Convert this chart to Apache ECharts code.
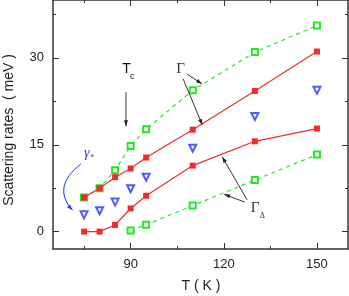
<!DOCTYPE html>
<html><head><meta charset="utf-8">
<script src="https://cdn.jsdelivr.net/npm/echarts@6/dist/echarts.min.js"></script>
<style>html,body{margin:0;padding:0;background:#fff}#c{width:349px;height:296px}</style>
</head><body><div id="c"></div>
<script>
// ---- data ----
var temps = [75, 80, 85, 90, 95, 110, 130, 150];
var gammaUpperRed = [5.9, 7.5, 9.4, 10.9, 12.8, 17.6, 24.3, 31.1];
var gammaDeltaRed = [0, 0, 1.15, 4.0, 6.2, 11.4, 15.6, 17.8];
var gammaUpperGreen = [5.9, 7.5, 10.6, 14.8, 17.7, 24.4, 31.0, 35.6];
var tempsLowerGreen = [90, 95, 110, 130, 150];
var gammaDeltaGreen = [0.2, 1.2, 4.5, 8.9, 13.3];
var gammaStar = [2.9, 3.6, 5.1, 7.4, 9.4, 14.4, 19.9, 24.4];
var xMajor = [90, 120, 150];
var xMinor = [75, 105, 135];
var yMajor = [0, 15, 30];
var yMinor = [7.5, 22.5, 37.5];

function pairs(xs, ys) { return xs.map(function (x, i) { return [x, ys[i]]; }); }

var FONT = 'Liberation Sans, Arial, sans-serif';
var AX = '#333';
function xa(pos, ticks, len, line, labels) {
  return {
    type: 'value', min: 65, max: 160, position: pos, gridIndex: 0,
    axisLine: { show: line, onZero: false, lineStyle: { color: AX, width: 1.5 } },
    axisTick: { show: true, inside: true, length: len, customValues: ticks, lineStyle: { color: AX, width: 1 } },
    axisLabel: labels ? { show: true, customValues: ticks, margin: 9, color: '#222', fontSize: 13, fontFamily: FONT } : { show: false },
    splitLine: { show: false }
  };
}
function ya(pos, ticks, len, line, labels) {
  return {
    type: 'value', min: -3, max: 40, position: pos, gridIndex: 0,
    axisLine: { show: line, onZero: false, lineStyle: { color: AX, width: 1.5 } },
    axisTick: { show: true, inside: true, length: len, customValues: ticks, lineStyle: { color: AX, width: 1 } },
    axisLabel: labels ? { show: true, customValues: ticks, margin: 9, color: '#222', fontSize: 13, fontFamily: FONT } : { show: false },
    splitLine: { show: false }
  };
}
var xAxes = [xa('bottom', xMajor, 6, true, true), xa('bottom', xMinor, 3, false, false),
             xa('top', xMajor, 6, true, false), xa('top', xMinor, 3, false, false)];
var yAxes = [ya('left', yMajor, 6, true, true), ya('left', yMinor, 3, false, false),
             ya('right', yMajor, 6, true, false), ya('right', yMinor, 3, false, false)];

var RED = '#f42a2a', GREEN = '#22e822', BLUE = '#2233ff';

var option = {
  animation: false,
  backgroundColor: '#fff',
  grid: { left: 53, right: 1, top: 0, bottom: 47, containLabel: false, outerBoundsMode: 'none' },
  xAxis: xAxes,
  yAxis: yAxes,
  series: [
    {
      type: 'line', data: pairs(temps, gammaUpperGreen), symbol: 'emptyRect', symbolSize: 6,
      lineStyle: { color: GREEN, width: 1.2, type: [4, 4] }, itemStyle: { color: GREEN, borderWidth: 1.5 }, z: 2
    },
    {
      type: 'line', data: pairs(tempsLowerGreen, gammaDeltaGreen), symbol: 'emptyRect', symbolSize: 6,
      lineStyle: { color: GREEN, width: 1.2, type: [4, 4] }, itemStyle: { color: GREEN, borderWidth: 1.5 }, z: 2
    },
    {
      type: 'line', data: pairs(temps, gammaUpperRed), symbol: 'rect', symbolSize: 6,
      lineStyle: { color: RED, width: 1.2 }, itemStyle: { color: RED }, z: 3
    },
    {
      type: 'line', data: pairs(temps, gammaDeltaRed), symbol: 'rect', symbolSize: 6,
      lineStyle: { color: RED, width: 1.2 }, itemStyle: { color: RED }, z: 3
    },
    {
      type: 'scatter', data: pairs(temps, gammaStar), symbol: 'emptyTriangle', symbolRotate: 180, symbolSize: 7,
      itemStyle: { color: BLUE, borderColor: BLUE, borderWidth: 1.5 }, z: 4
    }
  ]
};
var chart = echarts.init(document.getElementById('c'), null, { renderer: 'canvas' });
chart.setOption(option);

function P(x, y) { return chart.convertToPixel({ gridIndex: 0 }, [x, y]); }

// annotation positions in data units
var arrowLines = [
  [[88.5, 24.1], [88.5, 18.2]],
  [[108.2, 27.2], [113.0, 25.5]],
  [[106.9, 26.4], [113.1, 18.4]],
  [[126.8, 5.1], [120.1, 6.45]],
  [[127.5, 5.5], [119.5, 12.9]]
];
var curve = { from: [74.0, 11.7], ctrl: [64.4, 7.7], to: [71.3, 3.7] };
var labels = [
  { at: [88.7, 28.1], text: 'T', font: '14px ' + FONT, color: '#111' },
  { at: [90.5, 26.8], text: 'c', font: '9px ' + FONT, color: '#111' },
  { at: [106.1, 28.1], text: 'Γ', font: '15px Liberation Serif, serif', color: '#333' },
  { at: [130.1, 4.1], text: 'Γ', font: '15px Liberation Serif, serif', color: '#333' },
  { at: [132.4, 2.7], text: 'Δ', font: '8px Liberation Serif, serif', color: '#333' },
  { at: [75.9, 13.6], text: 'γ', font: 'italic 14px Liberation Serif, serif', color: BLUE },
  { at: [77.6, 12.8], text: '*', font: '9px ' + FONT, color: BLUE }
];

function head(tip, dir, color) {
  var len = Math.hypot(dir[0], dir[1]);
  var ux = dir[0] / len, uy = dir[1] / len;
  var L = 6, W = 2;
  var bx = tip[0] - ux * L, by = tip[1] - uy * L;
  return {
    type: 'polygon', silent: true, z: 10,
    shape: { points: [tip, [bx - uy * W, by + ux * W], [bx + uy * W, by - ux * W]] },
    style: { fill: color }
  };
}
var g = [];
arrowLines.forEach(function (a) {
  var p0 = P(a[0][0], a[0][1]), p1 = P(a[1][0], a[1][1]);
  g.push({ type: 'line', silent: true, z: 10, shape: { x1: p0[0], y1: p0[1], x2: p1[0], y2: p1[1] },
    style: { stroke: '#333', lineWidth: 1 } });
  g.push(head(p1, [p1[0] - p0[0], p1[1] - p0[1]], '#222'));
});
(function () {
  var p0 = P(curve.from[0], curve.from[1]), c = P(curve.ctrl[0], curve.ctrl[1]), p1 = P(curve.to[0], curve.to[1]);
  g.push({ type: 'bezierCurve', silent: true, z: 10,
    shape: { x1: p0[0], y1: p0[1], x2: p1[0], y2: p1[1], cpx1: c[0], cpy1: c[1] },
    style: { stroke: BLUE, lineWidth: 1, fill: null } });
  g.push(head(p1, [p1[0] - c[0], p1[1] - c[1]], BLUE));
})();
labels.forEach(function (l) {
  var p = P(l.at[0], l.at[1]);
  g.push({ type: 'text', x: p[0], y: p[1], silent: true, z: 10,
    style: { text: l.text, font: l.font, fill: l.color, align: 'center', verticalAlign: 'middle' } });
});
// axis titles
g.push({ type: 'text', x: 9, y: 130, rotation: Math.PI / 2, silent: true,
  style: { text: 'Scattering rates  ( meV )', font: '14px ' + FONT, fill: '#222', align: 'center', verticalAlign: 'middle' } });
g.push({ type: 'text', x: 201, y: 286, silent: true,
  style: { text: 'T ( K )', font: '14px ' + FONT, fill: '#222', align: 'center', verticalAlign: 'middle' } });
chart.setOption({ graphic: g });
</script></body></html>
